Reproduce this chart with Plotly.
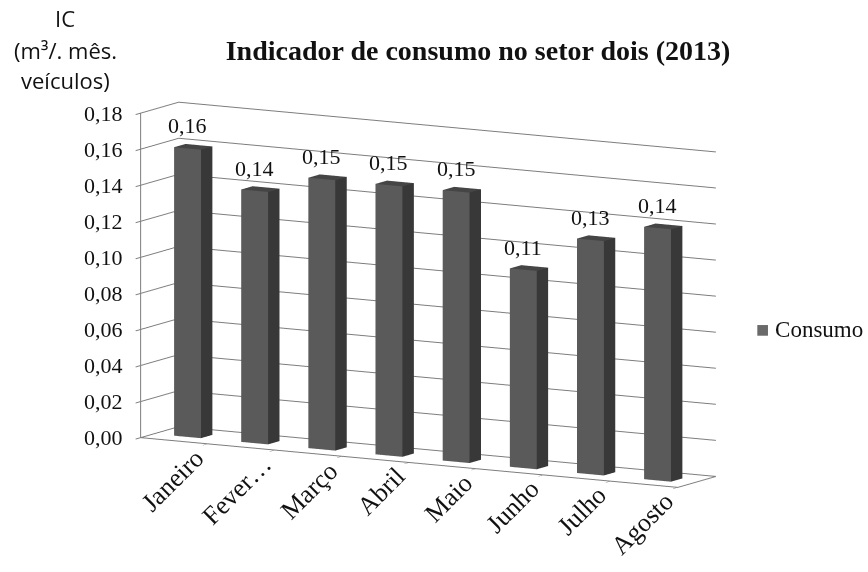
import math
import plotly.graph_objects as go

# Monthly consumption indicator, sector two, 2013
months = ["Janeiro", "Fever…", "Março", "Abril", "Maio", "Junho", "Julho", "Agosto"]
consumo = [0.16, 0.14, 0.15, 0.15, 0.15, 0.11, 0.13, 0.14]
z_ticks = [0.00, 0.02, 0.04, 0.06, 0.08, 0.10, 0.12, 0.14, 0.16, 0.18]

BAR_W = 0.40      # column width, in category units
BAR_D = 0.30      # column depth, in depth-axis units
FRONT = "#5a5a5a"
SIDE = "#383838"
TOP = "#454545"
GRID = "#7d7d7d"
SERIF = "Liberation Serif"
INK = "#111111"
n = len(months)


def box_mesh(xc, h):
    """Vertices and coloured triangles of one 3D column."""
    x0, x1 = xc - BAR_W / 2, xc + BAR_W / 2
    y0, y1 = -BAR_D / 2, BAR_D / 2
    vx = [x0, x1, x1, x0, x0, x1, x1, x0]
    vy = [y0, y0, y1, y1, y0, y0, y1, y1]
    vz = [0, 0, 0, 0, h, h, h, h]
    faces = [
        ((0, 1, 5), FRONT), ((0, 5, 4), FRONT),   # front
        ((1, 2, 6), SIDE), ((1, 6, 5), SIDE),     # right side
        ((4, 5, 6), TOP), ((4, 6, 7), TOP),       # top
        ((3, 2, 6), SIDE), ((3, 6, 7), SIDE),     # back
        ((0, 3, 7), SIDE), ((0, 7, 4), SIDE),     # left side
        ((0, 1, 2), SIDE), ((0, 2, 3), SIDE),     # bottom
    ]
    return vx, vy, vz, faces


X, Y, Z, I, J, K, FC = [], [], [], [], [], [], []
for idx, val in enumerate(consumo):
    vx, vy, vz, faces = box_mesh(idx, val)
    base = len(X)
    X += vx
    Y += vy
    Z += vz
    for (a, b, c), col in faces:
        I.append(base + a)
        J.append(base + b)
        K.append(base + c)
        FC.append(col)

fig = go.Figure()
fig.add_trace(go.Mesh3d(
    x=X, y=Y, z=Z, i=I, j=J, k=K, facecolor=FC,
    flatshading=True,
    lighting=dict(ambient=1.0, diffuse=0.0, specular=0.0, roughness=1.0, fresnel=0.0),
    hoverinfo="skip", showscale=False, name="Consumo",
))

axis_common = dict(
    showbackground=False, showspikes=False, zeroline=False,
    linecolor=GRID, linewidth=2, showline=True,
    gridcolor=GRID, gridwidth=2,
    showticklabels=False, tickcolor=GRID, ticklen=10, tickwidth=2,
    title=dict(text=""),
)

# scene annotations: upright labels anchored to data positions
scene_notes = []
for t in z_ticks:            # value axis labels on the front-left edge
    scene_notes.append(dict(
        x=-0.5, y=-0.5, z=t, text=f"{t:.2f}".replace(".", ","),
        showarrow=False, xanchor="right", yanchor="middle", xshift=-16,
        font=dict(family=SERIF, size=22, color=INK)))
for i, m in enumerate(months):   # category labels below the floor
    scene_notes.append(dict(
        x=i, y=-0.5, z=0, text=m, textangle=-45,
        showarrow=False, xanchor="right", yanchor="top", xshift=38, yshift=0,
        font=dict(family=SERIF, size=26, color=INK)))
for i, v in enumerate(consumo):  # value labels above each column
    scene_notes.append(dict(
        x=i, y=-BAR_D / 2, z=v, text=f"{v:.2f}".replace(".", ","),
        showarrow=False, xanchor="center", yanchor="bottom", yshift=8,
        font=dict(family=SERIF, size=22, color=INK)))

# camera: looking from the front-right, slightly above
yaw, elev, dist = math.radians(30), math.radians(10), 2.85
eye = dict(x=dist * math.sin(yaw) * math.cos(elev),
           y=-dist * math.cos(yaw) * math.cos(elev),
           z=dist * math.sin(elev))

fig.update_layout(
    width=868, height=572,
    paper_bgcolor="white",
    margin=dict(l=0, r=0, t=0, b=0),
    showlegend=False,
    title=dict(
        text="<b>Indicador de consumo no setor dois (2013)</b>",
        x=478 / 868, y=1 - 50 / 572, xanchor="center", yanchor="middle",
        font=dict(family=SERIF, size=28, color=INK),
    ),
    scene=dict(
        domain=dict(x=[0, 1], y=[0, 1]),
        aspectmode="manual",
        aspectratio=dict(x=2.16, y=0.27, z=1.15),
        xaxis=dict(axis_common, range=[-0.5, n - 0.5],
                   tickvals=[k - 0.5 for k in range(n + 1)],
                   showgrid=False, ticks="outside"),
        yaxis=dict(axis_common, range=[-0.5, 0.5], showgrid=False, ticks=""),
        zaxis=dict(axis_common, range=[0, 0.18], tickvals=z_ticks,
                   showgrid=True, ticks="outside"),
        camera=dict(
            eye=eye,
            center=dict(x=0.023, y=0, z=0.033),
            up=dict(x=0, y=0, z=1),
            projection=dict(type="orthographic"),
        ),
        annotations=scene_notes,
    ),
    annotations=[
        dict(text=t, x=65 / 868, y=1 - yc / 572, xref="paper", yref="paper",
             xanchor="center", yanchor="middle", showarrow=False,
             font=dict(family="Open Sans", size=22, color=INK))
        for t, yc in [("IC", 18), ("(m³/. mês.", 50), ("veículos)", 80)]
    ] + [
        dict(text="<span style='color:#6a6a6a;font-size:22px'>■</span> Consumo",
             x=754 / 868, y=1 - 330 / 572, xref="paper", yref="paper",
             xanchor="left", yanchor="middle", showarrow=False,
             font=dict(family=SERIF, size=23, color=INK)),
    ],
)

fig.write_html("out.html")
